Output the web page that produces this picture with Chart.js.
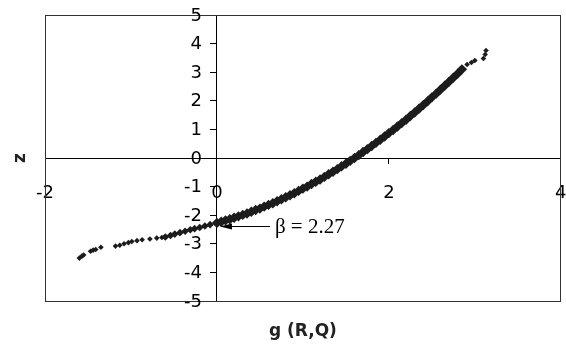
<!DOCTYPE html>
<html>
<head>
<meta charset="utf-8">
<script src="https://cdn.jsdelivr.net/npm/chart.js@4/dist/chart.umd.min.js"></script>
<style>
  html, body { margin: 0; padding: 0; background: #fff; }
</style>
</head>
<body>
<canvas id="limit-state-chart" width="566" height="347"></canvas>
<script>
// limit state function g(R,Q) against standard normal variate z
const g_values = [
  -1.60, -1.57, -1.55, -1.47, -1.44, -1.41, -1.35,
  -1.18, -1.13, -1.08, -1.03, -0.99, -0.93, -0.87, -0.78, -0.70, -0.64, -0.60,
  -0.54, -0.49, -0.43, -0.37, -0.31, -0.26, -0.20, -0.14, -0.08,
  0.00, 0.05, 0.10, 0.15, 0.20, 0.25, 0.30, 0.35, 0.40, 0.45,
  0.50, 0.55, 0.60, 0.65, 0.70, 0.75, 0.80, 0.85, 0.90, 0.95,
  1.00, 1.05, 1.10, 1.15, 1.20, 1.25, 1.30, 1.35, 1.40, 1.45,
  1.50, 1.55, 1.60, 1.65, 1.70, 1.75, 1.80, 1.85, 1.90, 1.95,
  2.00, 2.05, 2.10, 2.15, 2.20, 2.25, 2.30, 2.35, 2.40, 2.45,
  2.50, 2.55, 2.60, 2.65, 2.70, 2.75, 2.80, 2.85,
  2.91, 2.96, 3.00, 3.10, 3.12, 3.13
]
const z_values = [
  -3.50, -3.43, -3.39, -3.26, -3.22, -3.20, -3.12,
  -3.08, -3.05, -3.00, -2.96, -2.92, -2.89, -2.86, -2.83, -2.80, -2.78, -2.76,
  -2.71, -2.66, -2.61, -2.56, -2.51, -2.47, -2.43, -2.38, -2.33,
  -2.27, -2.23, -2.18, -2.14, -2.09, -2.04, -1.99, -1.94, -1.88, -1.82,
  -1.77, -1.70, -1.64, -1.58, -1.51, -1.44, -1.37, -1.30, -1.23, -1.15,
  -1.07, -1.00, -0.91, -0.83, -0.75, -0.66, -0.57, -0.48, -0.39, -0.29,
  -0.20, -0.10, 0.00, 0.10, 0.21, 0.31, 0.42, 0.53, 0.64, 0.75,
  0.87, 0.98, 1.10, 1.22, 1.34, 1.47, 1.59, 1.72, 1.85, 1.98,
  2.12, 2.25, 2.39, 2.53, 2.67, 2.81, 2.95, 3.10,
  3.27, 3.34, 3.41, 3.48, 3.62, 3.76
]
const x_ticks = [-2, 0, 2, 4]
const y_ticks = [5, 4, 3, 2, 1, 0, -1, -2, -3, -4, -5]
const beta = 2.27

const points = g_values.map((g, i) => ({x: g, y: z_values[i]}))

const tick_font = {family: "DejaVu Sans", size: 18}
const title_font = {family: "DejaVu Sans", size: 17, weight: "bold"}

// thinner diamonds where the sample is sparse (both tails)
function pointSize(ctx) {
  const p = ctx.raw
  if (!p) return 4
  if (p.x < -0.6 || p.x > 2.87) return 2.8
  if (p.x < 0) return 3.8
  return 5.2
}

const frame_plugin = {
  id: "plotFrame",
  beforeDatasetsDraw(chart) {
    const {ctx, chartArea: a} = chart
    ctx.save()
    ctx.strokeStyle = "#333"
    ctx.lineWidth = 1
    ctx.strokeRect(Math.round(a.left) + 0.5, Math.round(a.top) + 0.5,
      Math.round(a.right - a.left) - 1, Math.round(a.bottom - a.top))
    ctx.restore()
  }
}

// z tick labels sit left of the crossing axis, clear of the tick marks
const y_label_plugin = {
  id: "yLabels",
  afterDraw(chart) {
    const {ctx, scales} = chart
    const x = scales.x.getPixelForValue(0) - 15
    ctx.save()
    ctx.font = '18px "DejaVu Sans"'
    ctx.fillStyle = "#000"
    ctx.textAlign = "right"
    ctx.textBaseline = "middle"
    scales.y.ticks.forEach(t => {
      ctx.fillText(t.label, x, scales.y.getPixelForValue(t.value) + 1)
    })
    ctx.restore()
  }
}

// arrow pointing at the z intercept, labelled with the reliability index
const beta_plugin = {
  id: "betaArrow",
  afterDatasetsDraw(chart) {
    const {ctx, scales} = chart
    // tip sits just under the band of points
    const y = Math.round(scales.y.getPixelForValue(-beta)) + 3.5
    const tip = scales.x.getPixelForValue(0) + 3
    const tail = tip + 50
    ctx.save()
    ctx.strokeStyle = "#000"
    ctx.fillStyle = "#000"
    ctx.lineWidth = 1
    ctx.beginPath()
    ctx.moveTo(tip + 10, y)
    ctx.lineTo(tail, y)
    ctx.stroke()
    ctx.beginPath()
    ctx.moveTo(tip, y)
    ctx.lineTo(tip + 12, y - 3)
    ctx.lineTo(tip + 12, y + 3)
    ctx.closePath()
    ctx.fill()
    ctx.font = '21px "Liberation Serif"'
    ctx.textAlign = "left"
    ctx.textBaseline = "middle"
    ctx.fillText("\u03b2 = " + beta.toFixed(2), tail + 5, y + 1)
    ctx.restore()
  }
}

const ctx = document.getElementById("limit-state-chart").getContext("2d")

new Chart(ctx, {
  type: "scatter",
  data: {
    datasets: [{
      label: "z",
      data: points,
      pointStyle: "rectRot",
      radius: pointSize,
      backgroundColor: "#1c1c1c",
      borderWidth: 0
    }]
  },
  options: {
    responsive: false,
    animation: false,
    events: [],
    layout: {
      padding: {top: 15, right: 1, left: 0, bottom: 0}
    },
    plugins: {
      legend: {display: false},
      tooltip: {enabled: false}
    },
    scales: {
      x: {
        type: "linear",
        position: {y: 0},
        min: -2,
        max: 4,
        afterBuildTicks: axis => { axis.ticks = x_ticks.map(v => ({value: v})) },
        afterFit: axis => { axis.paddingLeft = 0; axis.paddingRight = 0 },
        grid: {drawOnChartArea: false, drawTicks: true, tickLength: 5, color: "#000"},
        border: {display: true, color: "#000", width: 1},
        ticks: {font: tick_font, color: "#000", padding: 20, maxRotation: 0}
      },
      y: {
        type: "linear",
        position: {x: 0},
        min: -5,
        max: 5,
        afterBuildTicks: axis => { axis.ticks = y_ticks.map(v => ({value: v})) },
        afterFit: axis => { axis.paddingTop = 0; axis.paddingBottom = 0 },
        grid: {drawOnChartArea: false, drawTicks: true, tickLength: 6, color: "#000"},
        border: {display: true, color: "#000", width: 1},
        ticks: {display: false}
      },
      xTitle: {
        type: "linear",
        axis: "x",
        position: "bottom",
        afterFit: axis => { axis.height = 46 },
        grid: {display: false},
        border: {display: false},
        ticks: {display: false},
        title: {display: true, text: "g (R,Q)", font: title_font, color: "#222", padding: {top: 0, bottom: 5}}
      },
      yTitle: {
        type: "linear",
        axis: "y",
        position: "left",
        afterFit: axis => { axis.width = 45 },
        grid: {display: false},
        border: {display: false},
        ticks: {display: false},
        title: {display: true, text: "z", font: title_font, color: "#222", padding: {top: 10, bottom: 0}}
      }
    }
  },
  plugins: [frame_plugin, y_label_plugin, beta_plugin]
})
</script>
</body>
</html>
